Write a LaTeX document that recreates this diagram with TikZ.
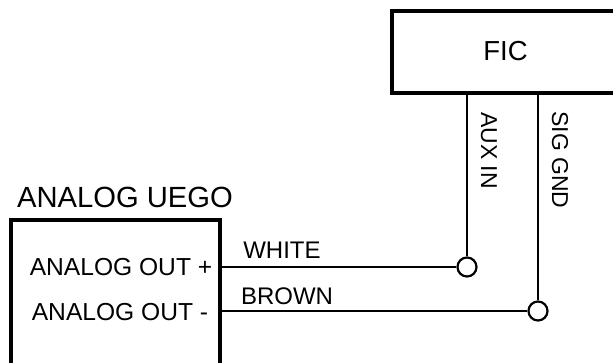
\documentclass[tikz,border=0pt]{standalone}
\usepackage{fontspec}
\setmainfont{Liberation Sans}
\tikzset{
  devbox/.style={draw=black,line width=3.4pt,fill=white,inner sep=0pt,minimum width=#1},
  wire/.style={draw=black,line width=2.1pt},
  term/.style={circle,draw=black,line width=2.2pt,fill=white,minimum size=19pt,inner sep=0pt},
  lbl/.style={inner sep=0pt,text=black,anchor=base}
}
\begin{document}
\begin{tikzpicture}[x=1pt,y=-1pt]
\useasboundingbox (0,0) rectangle (613,363);
\node[devbox=228pt,minimum height=82pt] (fic) at (506,52) {};
\node[lbl,font=\fontsize{27.5}{27.5}\selectfont] (ficl) at (505.5,60.5) {FIC};
\node[devbox=209pt,minimum height=145pt] (uego) at (115.5,292.5) {};
\node[lbl,font=\fontsize{29.2}{29.2}\selectfont] (title) at (125,208) {ANALOG UEGO};
\node[lbl,font=\fontsize{24.6}{24.6}\selectfont] (outp) at (121,276) {ANALOG OUT +};
\node[lbl,font=\fontsize{24.6}{24.6}\selectfont] (outm) at (120,320) {ANALOG OUT -};
\coordinate (pa) at (uego.east |- 0,267);
\coordinate (pb) at (uego.east |- 0,311);
\node[term] (ta) at (467,267) {};
\node[term] (tb) at (538,311) {};
\draw[wire] (pa) -- (ta);
\draw[wire] (pb) -- (tb);
\draw[wire] (ta) -- (ta |- fic.south);
\draw[wire] (tb) -- (tb |- fic.south);
\node[lbl,font=\fontsize{24}{24}\selectfont] (white) at (282,259) {WHITE};
\node[lbl,font=\fontsize{24}{24}\selectfont] (brown) at (287,305) {BROWN};
\node[lbl,font=\fontsize{23}{23}\selectfont,rotate=-90,anchor=base] (aux) at (481,150.5) {AUX IN};
\node[lbl,font=\fontsize{23}{23}\selectfont,rotate=-90,anchor=base] (sig) at (552,160) {SIG GND};
\end{tikzpicture}
\end{document}
